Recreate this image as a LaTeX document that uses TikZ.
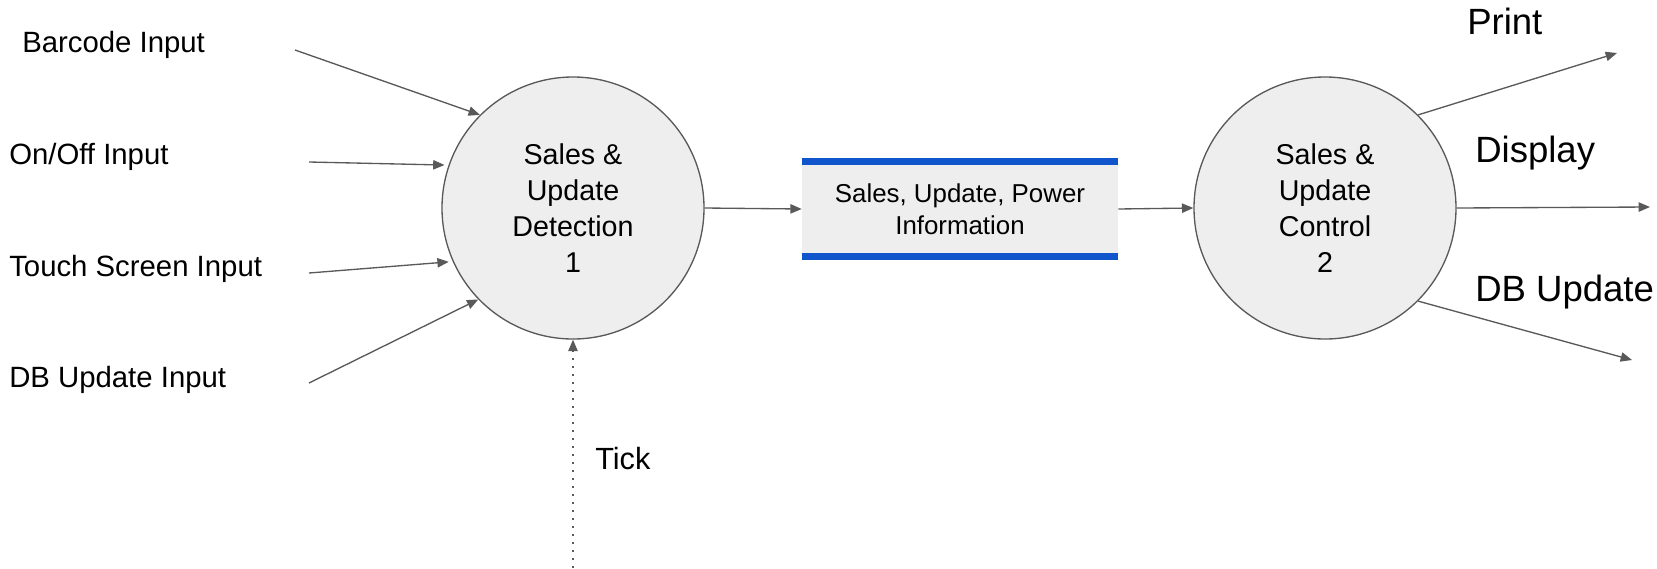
\documentclass[tikz,border=0pt]{standalone}
\usepackage{fontspec}
\setmainfont{Liberation Sans}
\usetikzlibrary{arrows.meta}
\definecolor{linegray}{HTML}{595959}
\definecolor{fillgray}{HTML}{EEEEEE}
\definecolor{storeblue}{HTML}{1155CC}
\begin{document}
\begin{tikzpicture}[x=0.75pt,y=-0.75pt,
  flow/.style={draw=linegray,line width=1pt,-{Triangle[length=8.5pt,width=7pt]}},
  proc/.style={circle,draw=linegray,line width=1pt,fill=fillgray,minimum size=196.5pt,inner sep=0pt,align=center,font=\fontsize{21.5pt}{27pt}\selectfont},
  lbl/.style={anchor=base west,inner sep=0pt,font=\fontsize{22pt}{26pt}\selectfont},
  biglbl/.style={anchor=base west,inner sep=0pt,font=\fontsize{27.4pt}{32pt}\selectfont},
  storebox/.style={fill=fillgray,minimum width=237pt,minimum height=66pt,inner sep=0pt,align=center,font=\fontsize{19.4pt}{24pt}\selectfont},
  storeline/.style={draw=storeblue,line width=5.25pt}
]
\useasboundingbox (0,0) rectangle (1657,568);

% processes
\node[proc] (c1) at (573,208) {Sales \&\\Update\\Detection\\1};
\node[proc] (c2) at (1325,208) {Sales \&\\Update\\Control\\2};

% data store
\node[storebox] (store) at (960,209) {Sales, Update, Power\\Information};
\draw[storeline] ([yshift=2.625pt]store.north west) -- ([yshift=2.625pt]store.north east);
\draw[storeline] ([yshift=-2.625pt]store.south west) -- ([yshift=-2.625pt]store.south east);

% input labels
\node[lbl] (lb) at (22,52.5) {Barcode Input};
\node[lbl] (lo) at (9,164.5) {On/Off Input};
\node[lbl] (lt) at (9,276.5) {Touch Screen Input};
\node[lbl] (ld) at (9,387.5) {DB Update Input};

% input arrows
\coordinate (sb) at (295,50);
\coordinate (so) at (309,162);
\coordinate (st) at (309,273);
\coordinate (sd) at (309,383);
\draw[flow] (sb) -- (c1.135);
\draw[flow,shorten >=3pt] (so) -- (c1.161);
\draw[flow,shorten >=3pt] (st) -- (c1.204);
\draw[flow] (sd) -- (c1.224);

% tick
\coordinate (tk) at (573,568);
\draw[flow,dash pattern=on 1.5pt off 4.5pt] (tk) -- (c1.south);
\node[anchor=base west,inner sep=0pt,font=\fontsize{23pt}{27pt}\selectfont] (ltick) at (595,469) {Tick};

% flows through store
\draw[flow] (c1.east) -- (store.west);
\draw[flow] (store.east) -- (c2.west);

% outputs
\coordinate (pe) at (1617,53);
\coordinate (de) at (1650,207);
\coordinate (ue) at (1632,360);
\draw[flow] (c2.45) -- (pe);
\draw[flow] (c2.east) -- (de);
\draw[flow] (c2.-45) -- (ue);
\node[biglbl] (lp) at (1467,34) {Print};
\node[biglbl] (ldisp) at (1475,162) {Display};
\node[biglbl] (lu) at (1475,301) {DB Update};
\end{tikzpicture}
\end{document}
